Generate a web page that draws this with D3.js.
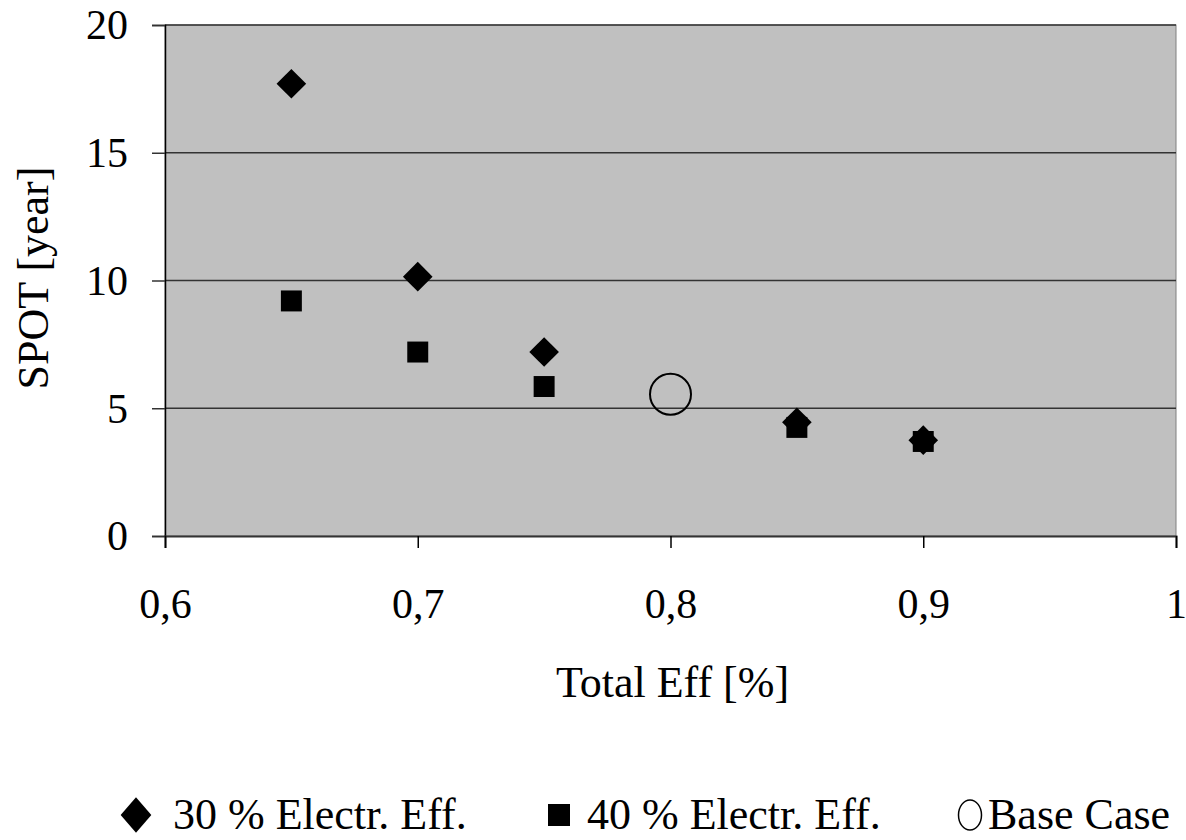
<!DOCTYPE html>
<html>
<head>
<meta charset="utf-8">
<script src="https://cdn.jsdelivr.net/npm/d3@7"></script>
<style>
  body { margin: 0; background: #fff; }
  text { font-family: "Liberation Serif", "Times New Roman", serif; fill: #000; }
</style>
</head>
<body>
<script>
const effX = [0.65, 0.7, 0.75, 0.85, 0.9];
const spot30 = [17.7, 10.15, 7.2, 4.45, 3.75];
const spot40 = [9.2, 7.2, 5.85, 4.25, 3.7];
const baseX = [0.8];
const baseY = [5.55];
const xTicks = [0.6, 0.7, 0.8, 0.9, 1];
const yTicks = [0, 5, 10, 15, 20];
const legendNames = ["30 % Electr. Eff.", "40 % Electr. Eff.", "Base Case"];

const options = { width: 1186, height: 840 };
const plot = { left: 165, top: 25, right: 1176, bottom: 536 };
const fontSize = "42px";

let svg = d3.select("body").append("svg")
    .attr("width", options.width)
    .attr("height", options.height);

const x = d3.scaleLinear().domain([0.6, 1]).range([plot.left, plot.right]);
const y = d3.scaleLinear().domain([0, 20]).range([plot.bottom, plot.top]);

// plot background
svg.append("rect")
    .attr("x", plot.left).attr("y", plot.top)
    .attr("width", plot.right - plot.left).attr("height", plot.bottom - plot.top)
    .attr("fill", "#c0c0c0")
    .attr("stroke", "#808080");

// gridlines
svg.selectAll(".grid")
    .data(yTicks.slice(1))
    .enter().append("line")
    .attr("x1", plot.left).attr("x2", plot.right)
    .attr("y1", d => y(d)).attr("y2", d => y(d))
    .attr("stroke", "#333").attr("stroke-width", 1.5);

// y axis
let yAxis = svg.append("g")
    .attr("transform", `translate(${plot.left},0)`)
    .call(d3.axisLeft(y).tickValues(yTicks).tickSize(13).tickPadding(24).tickFormat(d3.format("d")));
yAxis.select(".domain").attr("stroke", "#000").attr("stroke-width", 1.5);
yAxis.selectAll(".tick line").attr("stroke", "#333").attr("stroke-width", 1.5);
yAxis.selectAll("text").style("font-size", fontSize).attr("dy", "0.33em");

// x axis
let xAxis = svg.append("g")
    .attr("transform", `translate(0,${plot.bottom})`)
    .call(d3.axisBottom(x).tickValues(xTicks).tickSize(12).tickPadding(40)
        .tickFormat(d => String(d).replace(".", ",")));
xAxis.select(".domain").attr("stroke", "#333").attr("stroke-width", 2);
xAxis.selectAll(".tick line").attr("stroke", "#000").attr("stroke-width", 1.5);
xAxis.selectAll("text").style("font-size", fontSize).attr("dy", "0.71em");

// axis titles
svg.append("text")
    .attr("transform", `translate(48,278) rotate(-90)`)
    .attr("text-anchor", "middle")
    .style("font-size", "44px")
    .text("SPOT [year]");

svg.append("text")
    .attr("x", (plot.left + plot.right) / 2 + 2)
    .attr("y", 697)
    .attr("text-anchor", "middle")
    .style("font-size", "44px")
    .text("Total Eff [%]");

const diamond = d3.symbol().type(d3.symbolDiamond2).size(560);
const square = d3.symbol().type(d3.symbolSquare).size(440);

// series 40%
svg.selectAll(".s40")
    .data(effX.map((d, i) => [d, spot40[i]]))
    .enter().append("path")
    .attr("d", square)
    .attr("transform", d => `translate(${x(d[0])},${y(d[1])})`)
    .attr("fill", "#000");

// series 30%
svg.selectAll(".s30")
    .data(effX.map((d, i) => [d, spot30[i]]))
    .enter().append("path")
    .attr("d", diamond)
    .attr("transform", d => `translate(${x(d[0])},${y(d[1])})`)
    .attr("fill", "#000");

// base case
svg.selectAll(".base")
    .data(baseX.map((d, i) => [d, baseY[i]]))
    .enter().append("circle")
    .attr("cx", d => x(d[0])).attr("cy", d => y(d[1]))
    .attr("r", 20.5)
    .attr("fill", "none").attr("stroke", "#000").attr("stroke-width", 2);

// legend
const legendY = 815;
const markX = [136, 559, 970];
const textX = [173, 587, 988];

let lg = svg.append("g");
lg.append("path").attr("d", d3.symbol().type(d3.symbolDiamond2).size(600))
    .attr("transform", `translate(${markX[0]},${legendY}) scale(1,1.15)`).attr("fill", "#000");
lg.append("path").attr("d", d3.symbol().type(d3.symbolSquare).size(484))
    .attr("transform", `translate(${markX[1]},${legendY})`).attr("fill", "#000");
lg.append("ellipse").attr("cx", markX[2]).attr("cy", legendY).attr("rx", 11.5).attr("ry", 15)
    .attr("fill", "none").attr("stroke", "#000").attr("stroke-width", 1.5);

lg.selectAll(".lt")
    .data(legendNames)
    .enter().append("text")
    .attr("x", (d, i) => textX[i])
    .attr("y", legendY + 14)
    .style("font-size", "44px")
    .text(d => d);
</script>
</body>
</html>
